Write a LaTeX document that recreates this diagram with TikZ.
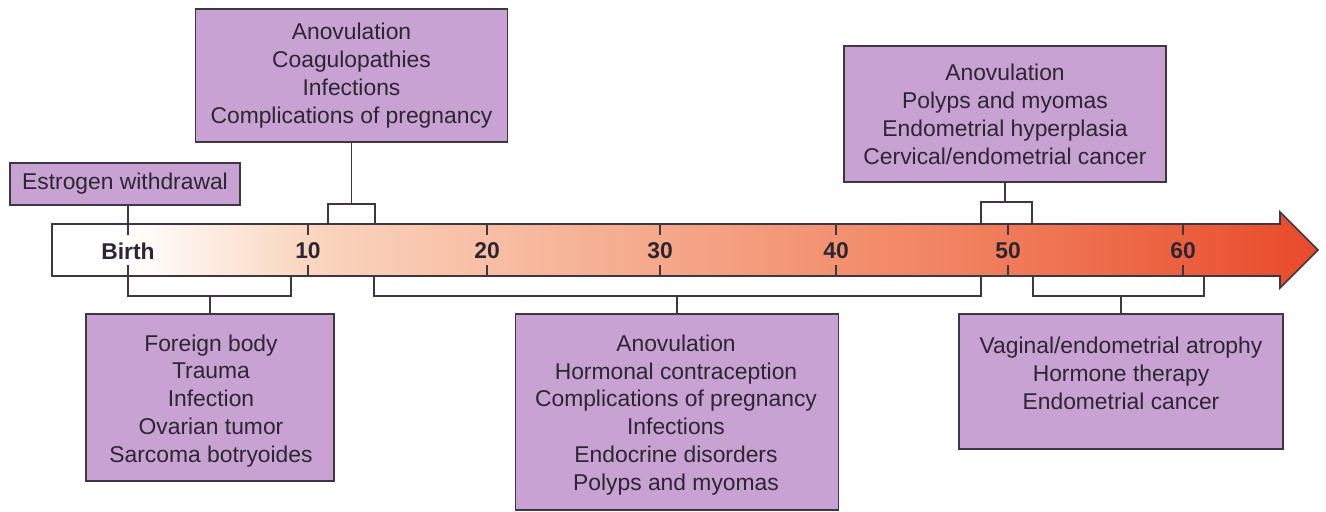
\documentclass[tikz,border=0pt]{standalone}
\usepackage{fontspec}
\setmainfont{Liberation Sans}
\usepackage{tikz}
\usetikzlibrary{positioning}
\definecolor{boxpurple}{RGB}{199,162,211}
\definecolor{boxline}{RGB}{62,54,66}
\definecolor{textgray}{RGB}{45,38,50}
\definecolor{agepeach}{RGB}{250,214,192}
\definecolor{agesalmon}{RGB}{245,168,138}
\definecolor{ageorange}{RGB}{240,122,88}
\definecolor{agered}{RGB}{232,74,42}
\pgfdeclarehorizontalshading{agefade}{100bp}{color(0bp)=(white); color(28bp)=(white);
  color(35bp)=(agepeach); color(49bp)=(agesalmon); color(63bp)=(ageorange);
  color(75bp)=(agered); color(100bp)=(agered)}

\begin{document}
\begin{tikzpicture}[x=0.02cm, y=-0.02cm,
  causebox/.style={draw=boxline, fill=boxpurple, line width=0.8pt, text=textgray,
    align=center, inner sep=0pt, font=\fontsize{13}{15.9}\selectfont},
  causetext/.style={text=textgray, align=center, inner sep=0pt, font=\fontsize{13}{15.9}\selectfont},
  agelabel/.style={text=textgray, font=\fontsize{13}{15.9}\selectfont\bfseries},
  link/.style={draw=boxline, line width=0.9pt}]
  \useasboundingbox (0,0) rectangle (1326,511);

  % timeline arrow
  \shadedraw[shading=agefade, draw=boxline, line width=0.9pt]
    (52,224) -- (1280,224) -- (1280,212) -- (1318,250) -- (1280,288) -- (1280,276) -- (52,276) -- cycle;
  \coordinate (bartop) at (0,224);
  \coordinate (barbot) at (0,276);
  \foreach \x/\age in {128/Birth,308/10,487/20,660/30,836/40,1008/50,1183/60} {
    \node[agelabel] (age\age) at (\x,251) {\age};
    \draw[link] (\x,224) -- ++(0,11) (\x,276) -- ++(0,-11);
  }

  % causes above the line
  \node[causebox, minimum width=4.6cm, minimum height=0.84cm] (withdrawal) at (125,184)
    {Estrogen withdrawal};
  \node[causebox, minimum width=6.24cm, minimum height=2.66cm] (early) at (351.5,75.5)
    {Anovulation\\Coagulopathies\\Infections\\Complications of pregnancy};
  \node[causebox, minimum width=6.44cm, minimum height=2.72cm] (late) at (1005,114)
    {Anovulation\\Polyps and myomas\\Endometrial hyperplasia\\Cervical/endometrial cancer};

  % causes below the line
  \node[causebox, minimum width=4.96cm, minimum height=3.34cm] (child) at (210,397.5) {};
  \node[causetext] (childtext) at (211,401)
    {Foreign body\\Trauma\\Infection\\Ovarian tumor\\Sarcoma botryoides};
  \node[causebox, minimum width=6.46cm, minimum height=3.92cm] (repro) at (677,412) {};
  \node[causetext] (reprotext) at (676,415)
    {Anovulation\\Hormonal contraception\\Complications of pregnancy\\Infections\\Endocrine disorders\\Polyps and myomas};
  \node[causebox, minimum width=6.48cm, minimum height=2.7cm] (post) at (1121,381.5) {};
  \node[causetext] (posttext) at (1121,373)
    {Vaginal/endometrial atrophy\\Hormone therapy\\Endometrial cancer};

  % brackets
  \coordinate (ea) at (328,204);  \coordinate (eb) at (375,204);
  \coordinate (la) at (981,202);  \coordinate (lb) at (1032,202);
  \coordinate (ca) at (128,296);  \coordinate (cb) at (291,296);
  \coordinate (ra) at (374,296);  \coordinate (rb) at (981,296);
  \coordinate (pa) at (1033,296); \coordinate (pb) at (1204,296);

  \draw[link] (withdrawal.south -| ageBirth) -- (ageBirth |- bartop);
  \draw[link] (early.south) -- (early.south |- ea);
  \draw[link] (ea |- bartop) -- (ea) -- (eb) -- (eb |- bartop);
  \draw[link] (late.south) -- (late.south |- la);
  \draw[link] (la |- bartop) -- (la) -- (lb) -- (lb |- bartop);
  \draw[link] (ca |- barbot) -- (ca) -- (cb) -- (cb |- barbot);
  \draw[link] (child.north) -- (child.north |- ca);
  \draw[link] (ra |- barbot) -- (ra) -- (rb) -- (rb |- barbot);
  \draw[link] (repro.north) -- (repro.north |- ra);
  \draw[link] (pa |- barbot) -- (pa) -- (pb) -- (pb |- barbot);
  \draw[link] (post.north) -- (post.north |- pa);
\end{tikzpicture}
\end{document}
